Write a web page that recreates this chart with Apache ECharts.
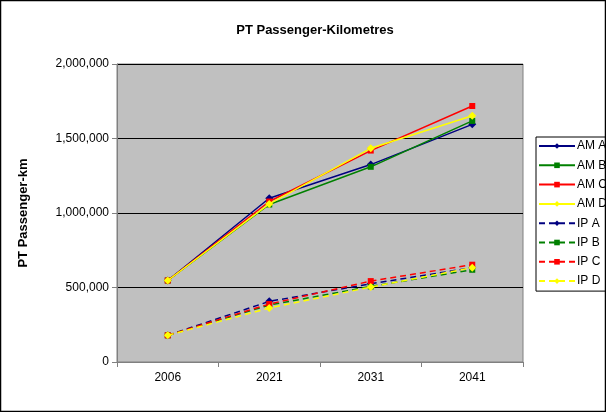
<!DOCTYPE html>
<html><head><meta charset="utf-8">
<script src="https://cdn.jsdelivr.net/npm/echarts@6/dist/echarts.min.js"></script>
<style>html,body{margin:0;padding:0;background:#fff}#c{width:606px;height:412px}</style>
</head><body><div id="c"></div>
<script>
const categories = ['2006', '2021', '2031', '2041'];
const seriesNames = ['AM A', 'AM B', 'AM C', 'AM D', 'IP A', 'IP B', 'IP C', 'IP D'];
const amA = [547000, 1099000, 1325000, 1595000];
const amB = [547000, 1057000, 1310000, 1618000];
const amC = [547000, 1077000, 1419000, 1718000];
const amD = [547000, 1061000, 1434000, 1653000];
const ipA = [179000, 407000, 525000, 633000];
const ipB = [179000, 382000, 507000, 619000];
const ipC = [179000, 389000, 543000, 653000];
const ipD = [179000, 362000, 503000, 633000];
const yTicks = [0, 500000, 1000000, 1500000, 2000000];

const values = [amA, amB, amC, amD, ipA, ipB, ipC, ipD];
const colors = ['#000080', '#008000', '#FF0000', '#FFFF00', '#000080', '#008000', '#FF0000', '#FFFF00'];
const symbols = ['diamond', 'rect', 'rect', 'diamond', 'diamond', 'rect', 'rect', 'diamond'];

const chart = echarts.init(document.getElementById('c'), null, {renderer: 'canvas'});
const fmt = v => v.toLocaleString('en-US');
chart.setOption({
  animation: false,
  backgroundColor: '#fff',
  textStyle: {fontFamily: 'Liberation Sans, Arial, sans-serif'},
  title: {
    text: 'PT Passenger-Kilometres', left: 310, top: 19, textAlign: 'center',
    textStyle: {fontSize: 13, fontWeight: 'bold', color: '#000', fontFamily: 'Liberation Sans, Arial, sans-serif'}
  },
  graphic: [{type: 'rect', shape: {x: 0.5, y: 0.5, width: 605, height: 411}, style: {fill: null, stroke: '#000', lineWidth: 1.5}, z: 100}],
  grid: {left: 117, right: 83, top: 64, bottom: 50, show: true, backgroundColor: '#C0C0C0', borderColor: '#808080', borderWidth: 1},
  legend: {
    orient: 'vertical', left: 536, top: 137, itemWidth: 36, itemHeight: 7, itemGap: 7.3,
    data: seriesNames,
    borderColor: '#000', borderWidth: 1, padding: [3, 20, 4, 2],
    textStyle: {fontSize: 12, color: '#000', padding: [0, 0, 0, -3]}
  },
  xAxis: {
    type: 'category', data: categories, boundaryGap: true,
    axisLine: {lineStyle: {color: '#808080'}},
    axisTick: {show: true, length: 5, lineStyle: {color: '#808080'}},
    axisLabel: {color: '#000', fontSize: 12, margin: 10}
  },
  yAxis: {
    type: 'value', min: yTicks[0], max: yTicks[yTicks.length - 1], interval: yTicks[1] - yTicks[0],
    name: 'PT Passenger-km', nameLocation: 'middle', nameGap: 87,
    nameTextStyle: {fontSize: 13, fontWeight: 'bold', color: '#000'},
    axisLine: {show: true, lineStyle: {color: '#808080'}},
    axisTick: {show: true, length: 5, lineStyle: {color: '#808080'}},
    axisLabel: {color: '#000', fontSize: 12, margin: 8, formatter: fmt},
    splitLine: {lineStyle: {color: '#000', width: 1}}
  },
  series: seriesNames.map((n, i) => ({
    name: n, type: 'line', data: values[i],
    symbol: symbols[i], symbolSize: symbols[i] === 'rect' ? 6 : 8,
    itemStyle: {color: colors[i]},
    lineStyle: {color: colors[i], width: 1.5, type: i >= 4 ? [6, 4] : 'solid'},
    z: 2 + i
  }))
});
</script></body></html>
